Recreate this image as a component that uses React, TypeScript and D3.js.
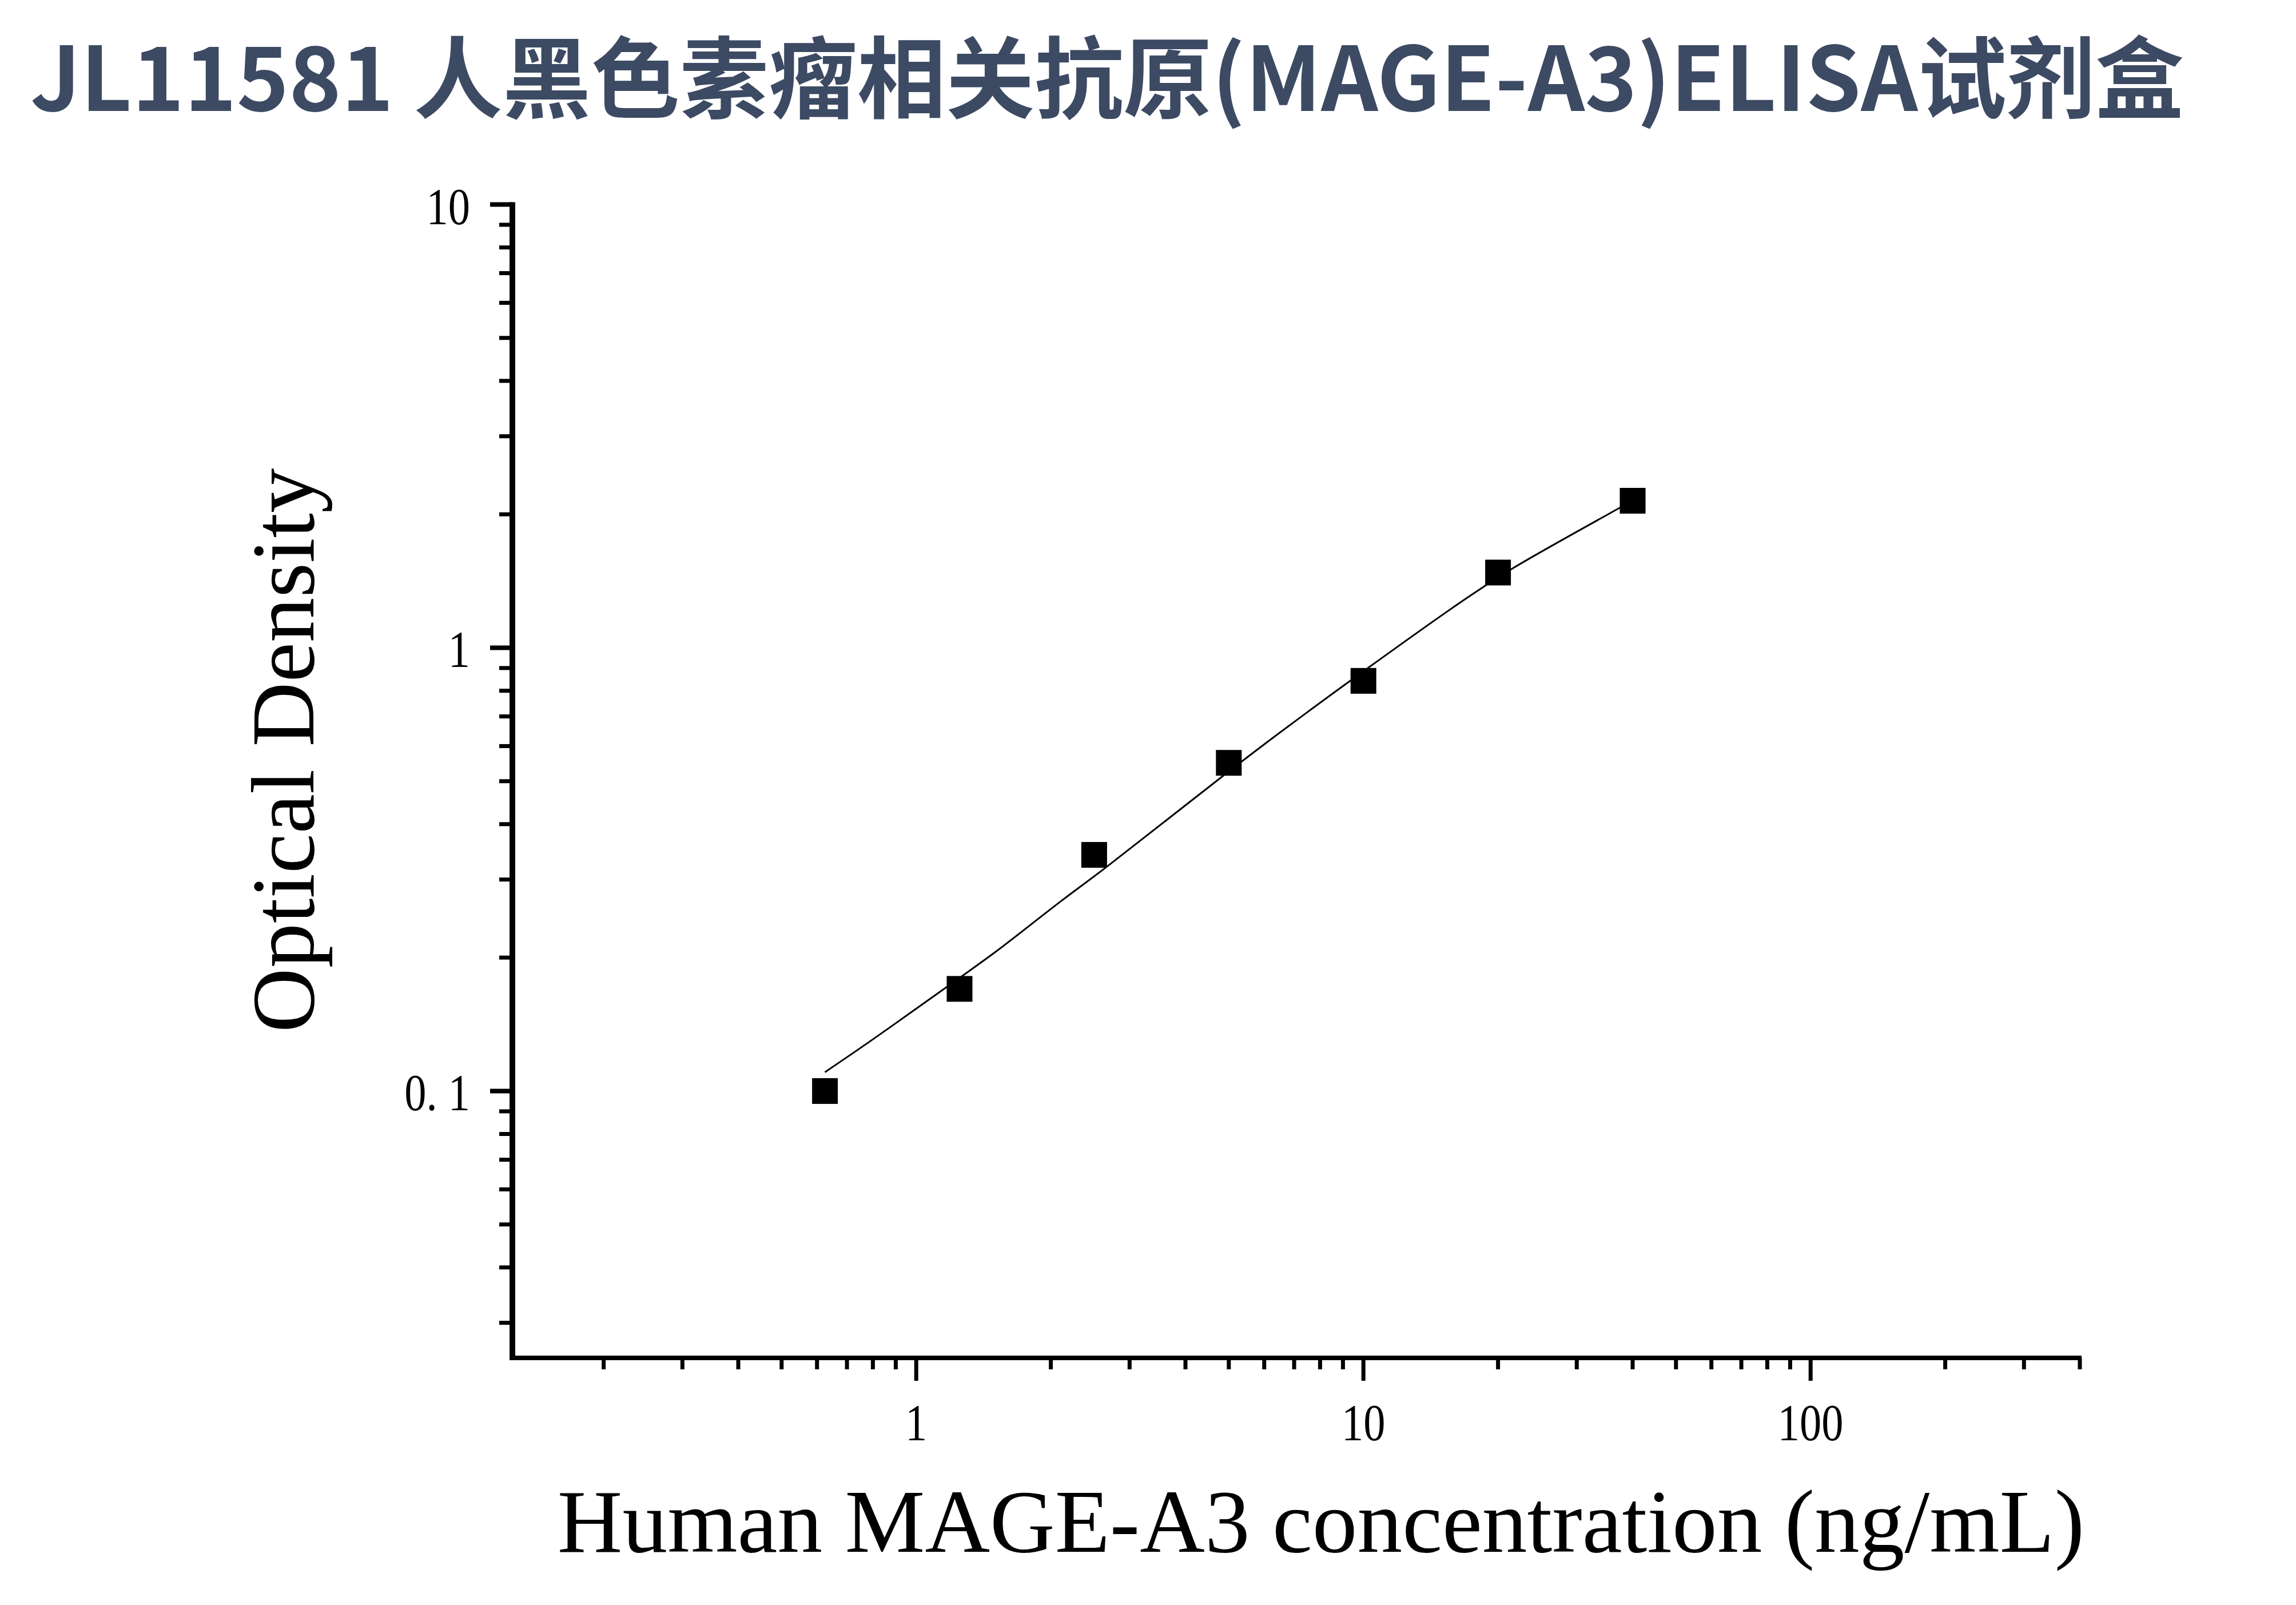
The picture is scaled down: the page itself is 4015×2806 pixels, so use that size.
import React from "react";
import * as d3 from "d3";

const TITLE = "JL11581 人黑色素瘤相关抗原(MAGE-A3)ELISA试剂盒";
const X_TITLE = "Human MAGE-A3 concentration (ng/mL)";
const Y_TITLE = "Optical Density";

// standard points
const concentrations = [0.625, 1.25, 2.5, 5, 10, 20, 40];
const odValues = [0.1, 0.17, 0.341, 0.55, 0.842, 1.478, 2.146];

// fitted curve
const curveX = [0.625, 0.793, 1.042, 1.25, 1.514, 2.092, 2.647, 4.867, 6.51, 10, 16.88, 21.48, 37.67, 40];
const curveY = [0.1103, 0.13, 0.158, 0.18, 0.207, 0.2666, 0.3187, 0.515, 0.644, 0.885, 1.287, 1.507, 2.077, 2.15];

const xDomain = [0.125, 400];
const yDomain = [0.025, 10];
const xMajorTicks = [1, 10, 100];
const xMajorLabels = ["1", "10", "100"];
const yMajorTicks = [0.1, 1, 10];
const yMajorLabels = ["0. 1", "1", "10"];

export default function App() {
  const W = 4015;
  const H = 2806;
  const left = 896;
  const right = 3637;
  const top = 357.5;
  const bottom = 2374;

  const x = d3.scaleLog().domain(xDomain).range([left, right]);
  const y = d3.scaleLog().domain(yDomain).range([bottom, top]);

  const xMinor = x.ticks().filter((t) => !xMajorTicks.some((m) => Math.abs(m - t) < 1e-9));
  const yMinor = y.ticks().filter((t) => !yMajorTicks.some((m) => Math.abs(m - t) < 1e-9));

  const curvePts: [number, number][] = curveX.map((c, i) => [x(c), y(curveY[i])]);
  const line = d3.line().curve(d3.curveCatmullRom.alpha(0.5))(curvePts) || "";

  const sq = 45;
  const tickFont = "'Liberation Serif', 'Times New Roman', serif";

  return (
    <svg
      width={W}
      height={H}
      viewBox={`0 0 ${W} ${H}`}
      style={{ position: "absolute", left: 0, top: 0, background: "#fff" }}
    >
      <rect x={0} y={0} width={W} height={H} fill="#fff" />
      <text
        x={53}
        y={194}
        fontFamily="'Noto Sans CJK SC', 'Noto Sans', sans-serif"
        fontWeight={700}
        fontSize={155.1}
        fill="#3d4a63"
      >
        {TITLE}
      </text>

      {/* axes lines */}
      <line x1={left} y1={top - 4} x2={left} y2={bottom + 4} stroke="#000" strokeWidth={10} />
      <line x1={left - 5} y1={bottom} x2={right + 3} y2={bottom} stroke="#000" strokeWidth={8} />

      {/* y ticks */}
      {yMajorTicks.map((t) => (
        <line key={"ym" + t} x1={left - 39} x2={left} y1={y(t)} y2={y(t)} stroke="#000" strokeWidth={8} />
      ))}
      {yMinor.map((t) => (
        <line key={"yn" + t} x1={left - 23} x2={left} y1={y(t)} y2={y(t)} stroke="#000" strokeWidth={7} />
      ))}
      {yMajorTicks.map((t, i) => (
        <text
          key={"yl" + t}
          transform={`translate(${822},${y(t) + 34}) scale(0.85,1)`}
          textAnchor="end"
          fontFamily={tickFont}
          fontSize={90}
          fill="#000"
        >
          {yMajorLabels[i]}
        </text>
      ))}

      {/* x ticks */}
      {xMajorTicks.map((t) => (
        <line key={"xm" + t} x1={x(t)} x2={x(t)} y1={bottom} y2={bottom + 40} stroke="#000" strokeWidth={7} />
      ))}
      {xMinor.map((t) => (
        <line key={"xn" + t} x1={x(t)} x2={x(t)} y1={bottom} y2={bottom + 20} stroke="#000" strokeWidth={7} />
      ))}
      {xMajorTicks.map((t, i) => (
        <text
          key={"xl" + t}
          transform={`translate(${x(t)},${2518}) scale(0.85,1)`}
          textAnchor="middle"
          fontFamily={tickFont}
          fontSize={90}
          fill="#000"
        >
          {xMajorLabels[i]}
        </text>
      ))}

      {/* axis titles */}
      <text x={2310} y={2713} textAnchor="middle" fontFamily={tickFont} fontSize={157.4} fill="#000">
        {X_TITLE}
      </text>
      <text
        transform={`translate(548,1312) rotate(-90)`}
        textAnchor="middle"
        fontFamily={tickFont}
        fontSize={156.5}
        fill="#000"
      >
        {Y_TITLE}
      </text>

      {/* curve */}
      <path d={line} fill="none" stroke="#000" strokeWidth={3} />

      {/* points */}
      {concentrations.map((c, i) => (
        <rect key={"p" + i} x={x(c) - sq / 2} y={y(odValues[i]) - sq / 2} width={sq} height={sq} fill="#000" />
      ))}
    </svg>
  );
}
